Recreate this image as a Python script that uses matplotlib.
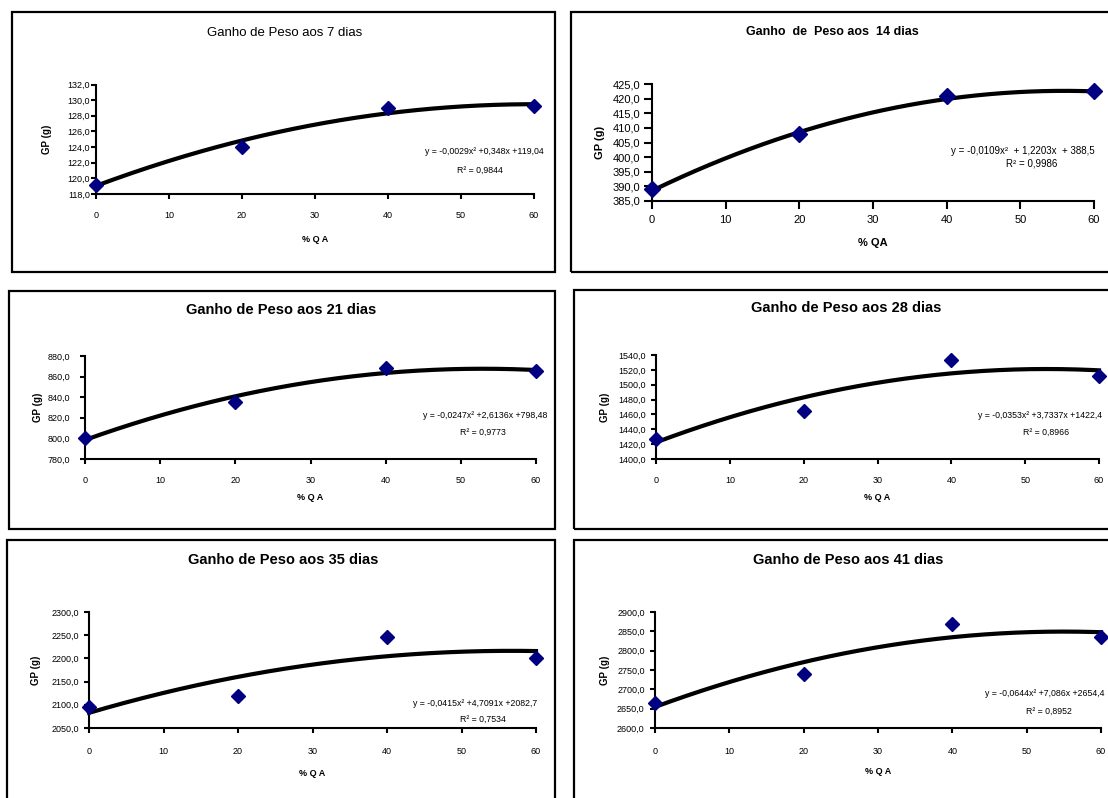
import numpy as np
import matplotlib
matplotlib.use("Agg")
import matplotlib.pyplot as plt
from matplotlib.patches import Rectangle
from matplotlib.ticker import FuncFormatter

plt.rcParams['font.family'] = ['Liberation Sans', 'DejaVu Sans']

# data
x_qa = [0, 20, 40, 60]
gp_7 = [119.2, 124.0, 129.0, 129.2]
gp_14 = [389.0, 408.0, 421.0, 422.5]
gp_21 = [800.0, 835.0, 868.0, 865.0]
gp_28 = [1427.0, 1465.0, 1533.0, 1512.0]
gp_35 = [2095.0, 2120.0, 2246.0, 2200.0]
gp_41 = [2665.0, 2740.0, 2870.0, 2835.0]

# trendline coefficients (a, b, c) as printed on the chart
coef_7 = [-0.0029, 0.348, 119.04]
coef_14 = [-0.0109, 1.2203, 388.5]
coef_21 = [-0.0247, 2.6136, 798.48]
coef_28 = [-0.0353, 3.7337, 1422.4]
coef_35 = [-0.0415, 4.7091, 2082.7]
coef_41 = [-0.0644, 7.086, 2654.4]

titles = ["Ganho de Peso aos 7 dias", "Ganho  de  Peso aos  14 dias",
          "Ganho de Peso aos 21 dias", "Ganho de Peso aos 28 dias",
          "Ganho de Peso aos 35 dias", "Ganho de Peso aos 41 dias"]
equations = ["y = -0,0029x² +0,348x +119,04",
             "y = -0,0109x²  + 1,2203x  + 388,5",
             "y = -0,0247x² +2,6136x +798,48",
             "y = -0,0353x² +3,7337x +1422,4",
             "y = -0,0415x² +4,7091x +2082,7",
             "y = -0,0644x² +7,086x +2654,4"]
r2_labels = ["R² = 0,9844", "R² = 0,9986", "R² = 0,9773",
             "R² = 0,8966", "R² = 0,7534", "R² = 0,8952"]
y_ranges = [(118, 132, 2), (385, 425, 5), (780, 880, 20),
            (1400, 1540, 20), (2050, 2300, 50), (2600, 2900, 50)]

W, H = 1108, 798
fig = plt.figure(figsize=(W / 100, H / 100), dpi=100)


def frac(x0, y0, x1, y1):
    return [x0 / W, 1 - y1 / H, (x1 - x0) / W, (y1 - y0) / H]


# layout in pixels: axes box, frame box, title, xlabel y, ylabel x, equation placement
layout = [
    dict(ax=(96, 84.5, 534, 194), frame=(12, 12, 555, 272), title=(285, 33), xl=239, yl=47,
         eq=(544, 152, 'right'), r2=(480, 170), tfs=9.5, tbold=False, fs=6.5, eqfs=6.3,
         xpad=9, ypad=1, tl=3.5),
    dict(ax=(652, 84, 1094, 201), frame=(571, 12, 1120, 272), title=(832, 32), xl=243, yl=600,
         eq=(951, 151, 'left'), r2=(1032, 164), tfs=9, tbold=True, fs=8, eqfs=7,
         xpad=4, ypad=2.5, tl=6),
    dict(ax=(85, 356, 536, 459), frame=(9, 291, 555, 529), title=(281, 310), xl=498, yl=38,
         eq=(547, 416, 'right'), r2=(483, 432), tfs=10.5, tbold=True, fs=6.5, eqfs=6.3,
         xpad=9, ypad=7, tl=3.5),
    dict(ax=(656, 355, 1099, 459), frame=(574, 290, 1120, 529), title=(846, 308), xl=498, yl=605,
         eq=(978, 416, 'left'), r2=(1046, 432), tfs=10.5, tbold=True, fs=6.5, eqfs=6.3,
         xpad=9, ypad=4, tl=3.5),
    dict(ax=(89, 612, 536, 728), frame=(7, 540, 555, 810), title=(283, 560), xl=773, yl=36,
         eq=(537, 703, 'right'), r2=(483, 719), tfs=10.5, tbold=True, fs=6.5, eqfs=6.3,
         xpad=10, ypad=4, tl=3.5),
    dict(ax=(655, 612, 1101, 728), frame=(574, 540, 1120, 810), title=(848, 560), xl=772, yl=605,
         eq=(985, 693, 'left'), r2=(1049, 711), tfs=10.5, tbold=True, fs=6.5, eqfs=6.3,
         xpad=10, ypad=4, tl=3.5),
]

series = [gp_7, gp_14, gp_21, gp_28, gp_35, gp_41]
coefs = [coef_7, coef_14, coef_21, coef_28, coef_35, coef_41]

comma = FuncFormatter(lambda v, p: f"{v:.1f}".replace('.', ','))
xfit = np.linspace(0, 60, 200)

for i, L in enumerate(layout):
    fx0, fy0, fx1, fy1 = L['frame']
    fig.add_artist(Rectangle((fx0 / W, 1 - fy1 / H), (fx1 - fx0) / W, (fy1 - fy0) / H,
                             transform=fig.transFigure, fill=False, lw=1.6, ec='black'))

    ax = fig.add_axes(frac(*L['ax']))
    ymin, ymax, step = y_ranges[i]
    ax.plot(xfit, np.polyval(coefs[i], xfit), color='black', lw=3, zorder=2, clip_on=False)
    ax.plot(x_qa, series[i], linestyle='none', marker='D', ms=8 if i == 1 else 7,
            mfc='#000080', mec='#000080', zorder=3, clip_on=False)
    ax.set_xlim(0, 60)
    ax.set_ylim(ymin, ymax)
    ax.set_xticks(range(0, 61, 10))
    ax.set_yticks(np.arange(ymin, ymax + step / 2, step))
    ax.yaxis.set_major_formatter(comma)
    for s in ('top', 'right'):
        ax.spines[s].set_visible(False)
    for s in ('left', 'bottom'):
        ax.spines[s].set_linewidth(1.5)
    ax.tick_params(axis='both', direction='out', length=L['tl'], width=1.5, labelsize=L['fs'])
    ax.tick_params(axis='x', pad=L['xpad'])
    ax.tick_params(axis='y', pad=L['ypad'])
    ax.patch.set_visible(False)

    cx = (L['ax'][0] + L['ax'][2]) / 2
    cy = (L['ax'][1] + L['ax'][3]) / 2
    fig.text(L['title'][0] / W, 1 - L['title'][1] / H, titles[i], ha='center', va='center',
             fontsize=L['tfs'], fontweight='bold' if L['tbold'] else 'normal')
    fig.text(cx / W, 1 - L['xl'] / H, "% Q A" if i != 1 else "% QA", ha='center', va='center',
             fontsize=6.5 if i != 1 else 8, fontweight='bold')
    fig.text(L['yl'] / W, 1 - cy / H, "GP (g)", ha='center', va='center', rotation=90,
             fontsize=7 if i != 1 else 8, fontweight='bold')
    ex, ey, eha = L['eq']
    fig.text(ex / W, 1 - ey / H, equations[i], ha=eha, va='center', fontsize=L['eqfs'])
    fig.text(L['r2'][0] / W, 1 - L['r2'][1] / H, r2_labels[i], ha='center', va='center',
             fontsize=L['eqfs'])

fig.savefig("out.png", dpi=100, facecolor='white')
